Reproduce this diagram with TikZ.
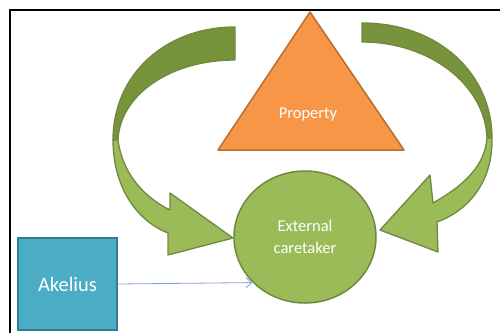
\documentclass[tikz,border=0pt]{standalone}
\usepackage{fontspec}
\setmainfont{Carlito}
\usetikzlibrary{arrows.meta,shapes.geometric}
\definecolor{orfill}{HTML}{F79646}
\definecolor{ordraw}{HTML}{B66D31}
\definecolor{gfill}{HTML}{9BBB59}
\definecolor{gdark}{HTML}{77933C}
\definecolor{gdraw}{HTML}{71893F}
\definecolor{bfill}{HTML}{4BACC6}
\definecolor{bdraw}{HTML}{357D91}
\definecolor{conn}{HTML}{7FA3D6}
\begin{document}
\begin{tikzpicture}[x=1pt,y=-1pt,
  lbl/.style={text=white,font=\fontsize{16.5}{22}\selectfont,align=center},
  band/.style={draw=gdraw,line width=1.3pt,line join=round},
  frameline/.style={line width=2pt,black}]
\useasboundingbox (0,0) rectangle (500,333);
\fill[white] (0,0) rectangle (500,333);
% frame
\coordinate (fa) at (10,333);
\coordinate (fb) at (10,10);
\coordinate (fc) at (500,10);
\draw[frameline] (fa) -- (fb) -- (fc);
% left curved arrow: back (dark) band
\fill[gdark,band] (235,27) .. controls (165,27) and (113,75) .. (113,140)
  -- (118,140) .. controls (120,95) and (170,60) .. (235,60) -- cycle;
% left curved arrow: front (light) band with head
\fill[gfill,band] (113,140) .. controls (113,185) and (135,220) .. (168,233)
  -- (168,255) -- (233,238) -- (170,193) -- (170,210)
  .. controls (140,195) and (122,170) .. (118,140) -- cycle;
% right curved arrow: back band
\fill[gdark,band] (362,23) .. controls (440,23) and (492,75) .. (492,138)
  -- (487,138) .. controls (485,85) and (430,42) .. (362,42) -- cycle;
% right curved arrow: front band
\fill[gfill,band] (492,138) .. controls (493,180) and (470,210) .. (437,222)
  -- (438,252) -- (380,230) -- (430,175) -- (433,203)
  .. controls (465,185) and (485,165) .. (487,138) -- cycle;
% triangle
\filldraw[fill=orfill,draw=ordraw,line width=1.5pt,line join=round]
  (310,12) -- (404,150) -- (218,150) -- cycle;
\node[lbl] (prop) at (308,115) {Property};
% circle
\node[ellipse,draw=gdraw,fill=gfill,line width=1.5pt,inner sep=0pt,
  minimum width=142pt,minimum height=132pt] (ext) at (305,237) {};
\node[lbl] (extt) at (305,237) {External\\caretaker};
% Akelius box
\node[draw=bdraw,fill=bfill,line width=2.5pt,minimum width=99pt,minimum height=92pt,
  text=white,font=\fontsize{20.5}{22}\selectfont] (ak) at (67.5,284) {Akelius};
\draw[conn,line width=0.8pt,-{Straight Barb[length=6pt,width=10pt]}] (ak.east) -- (ext.221);
\end{tikzpicture}
\end{document}
